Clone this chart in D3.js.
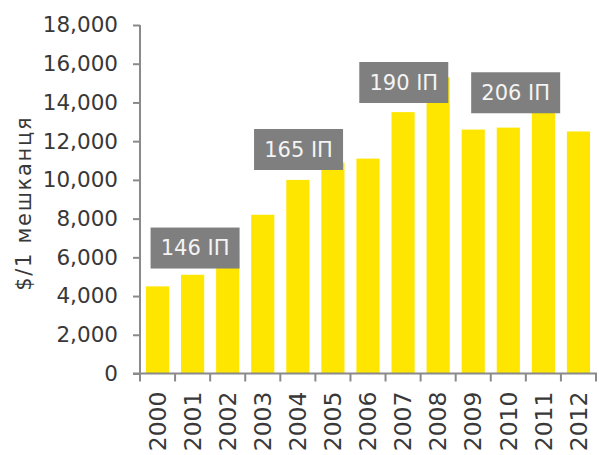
<!DOCTYPE html>
<html>
<head>
<meta charset="utf-8">
<script src="https://cdn.jsdelivr.net/npm/d3@7"></script>
<style>
  html, body { margin: 0; padding: 0; background: #fff; }
  svg { display: block; }
</style>
</head>
<body>
<svg id="chart" width="599" height="455"></svg>
<script>
// ---- Data ----
const years = ["2000","2001","2002","2003","2004","2005","2006","2007","2008","2009","2010","2011","2012"];
const values = [4500, 5100, 6400, 8200, 10000, 10900, 11100, 13500, 15300, 12600, 12700, 14000, 12500];
const yTicks = [0, 2000, 4000, 6000, 8000, 10000, 12000, 14000, 16000, 18000];
const yTitle = "$/1 мешканця";
const labelTexts = ["146 IП", "165 IП", "190 IП", "206 IП"];
const labelYears = [2001.07, 2004.02, 2007.02, 2010.21];
const labelValues = [6480, 11570, 15030, 14500];

// ---- Layout ----
const svg = d3.select("#chart");
const mLeft = 140, mRight = 596, mTop = 25, mBottom = 373.5;

const x = d3.scaleBand().domain(years).range([mLeft, mRight]).paddingInner(0.34).paddingOuter(0.17);
const xLin = d3.scaleLinear().domain([1999.5, 2012.5]).range([mLeft, mRight]);
const y = d3.scaleLinear().domain([0, 18000]).range([mBottom, mTop]);

const axisColor = "#8a8a8a";
const textColor = "#383838";
const font = "'DejaVu Sans', Verdana, sans-serif";

// Bars
svg.append("g").selectAll("rect").data(years).join("rect")
  .attr("x", d => x(d))
  .attr("y", (d, i) => y(values[i]))
  .attr("width", x.bandwidth())
  .attr("height", (d, i) => y(0) - y(values[i]))
  .attr("fill", "#FFE600");

// Y axis
const yAxis = svg.append("g").attr("transform", `translate(${mLeft},0)`)
  .call(d3.axisLeft(y).tickValues(yTicks).tickFormat(d3.format(",")).tickSize(7).tickPadding(15));
yAxis.select(".domain").attr("stroke", axisColor).attr("stroke-width", 2).attr("d", `M0,${mTop}V${mBottom}`);
yAxis.selectAll(".tick line").attr("stroke", axisColor).attr("stroke-width", 2);
yAxis.selectAll(".tick text").attr("fill", textColor).attr("font-family", font).attr("font-size", "21.5px");

// X axis line
svg.append("line")
  .attr("x1", mLeft - 7).attr("x2", mRight + 1)
  .attr("y1", mBottom).attr("y2", mBottom)
  .attr("stroke", axisColor).attr("stroke-width", 2);

// X ticks at band boundaries
const boundaries = d3.range(years.length + 1).map(i => 1999.5 + i);
svg.append("g").selectAll("line").data(boundaries).join("line")
  .attr("x1", d => xLin(d)).attr("x2", d => xLin(d))
  .attr("y1", mBottom).attr("y2", mBottom + 8)
  .attr("stroke", axisColor).attr("stroke-width", 2);

// X tick labels (rotated)
svg.append("g").selectAll("text").data(years).join("text")
  .attr("transform", d => `translate(${x(d) + x.bandwidth() / 2},${mBottom + 18}) rotate(-90)`)
  .attr("text-anchor", "end")
  .attr("dy", "0.35em")
  .attr("fill", textColor)
  .attr("font-family", font)
  .attr("font-size", "23.5px")
  .text(d => d);

// Y title
svg.append("text")
  .attr("transform", `translate(24,${(mTop + mBottom) / 2 + 4}) rotate(-90)`)
  .attr("text-anchor", "middle")
  .attr("dy", "0.35em")
  .attr("fill", textColor)
  .attr("font-family", font)
  .attr("font-size", "21px")
  .attr("letter-spacing", "1.7px")
  .text(yTitle);

// Annotation boxes
const boxW = 89, boxH = 41;
const ann = svg.append("g").selectAll("g").data(labelTexts).join("g")
  .attr("transform", (d, i) => `translate(${xLin(labelYears[i])},${y(labelValues[i])})`);
ann.append("rect")
  .attr("x", -boxW / 2).attr("y", -boxH / 2)
  .attr("width", boxW).attr("height", boxH)
  .attr("fill", "#7f7f7f");
ann.append("text")
  .attr("text-anchor", "middle")
  .attr("dy", "0.35em")
  .attr("fill", "#f4f4f4")
  .attr("font-family", font)
  .attr("font-size", "21px")
  .text(d => d);
</script>
</body>
</html>
